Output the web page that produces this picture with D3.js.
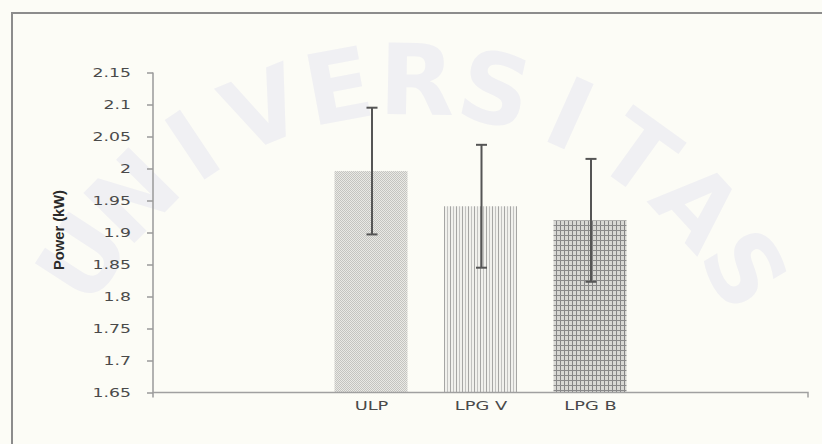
<!DOCTYPE html>
<html>
<head>
<meta charset="utf-8">
<script src="https://cdn.jsdelivr.net/npm/d3@7/dist/d3.min.js"></script>
<style>
  html, body { margin: 0; padding: 0; background: #fcfcf6; }
  svg { display: block; }
</style>
</head>
<body>
<script>
// Engine power by fuel type (mean ± standard deviation)
const categories = ["ULP", "LPG V", "LPG B"];
const powerMean = [1.996, 1.941, 1.919];
const powerErr = [0.099, 0.096, 0.096];
const yTicks = [1.65, 1.7, 1.75, 1.8, 1.85, 1.9, 1.95, 2, 2.05, 2.1, 2.15];
const yTickLabels = ["1.65", "1.7", "1.75", "1.8", "1.85", "1.9", "1.95", "2", "2.05", "2.1", "2.15"];
const yTitle = "Power (kW)";
const watermark = "UNIVERSITAS";

const W = 822, H = 444;
const svg = d3.select("body").append("svg").attr("width", W).attr("height", H);

svg.append("rect").attr("width", W).attr("height", H).attr("fill", "#fcfcf6");

// faint watermark lettering along an arc
const wm = svg.append("g").attr("fill", "#f0f0f3");
const cx = 410, cy = 470, rad = 390;
const a0 = -147, a1 = -31;
watermark.split("").forEach((ch, i) => {
  const ang = a0 + (a1 - a0) * i / (watermark.length - 1);
  const r = ang * Math.PI / 180;
  const x = cx + rad * Math.cos(r), y = cy + rad * Math.sin(r);
  wm.append("text")
    .attr("transform", `translate(${x},${y}) rotate(${ang + 90})`)
    .attr("text-anchor", "middle").attr("dy", "0.35em")
    .attr("font-family", "DejaVu Sans").attr("font-weight", "bold")
    .attr("font-size", 98).text(ch);
});

// patterns for the bar fills
const defs = svg.append("defs");
const pDots = defs.append("pattern").attr("id", "pDots").attr("patternUnits", "userSpaceOnUse")
  .attr("width", 2).attr("height", 2);
pDots.append("rect").attr("width", 2).attr("height", 2).attr("fill", "#e9e9e5");
pDots.append("rect").attr("x", 0).attr("y", 0).attr("width", 1).attr("height", 1).attr("fill", "#c4c4c0");
pDots.append("rect").attr("x", 1).attr("y", 1).attr("width", 1).attr("height", 1).attr("fill", "#c4c4c0");

const pVert = defs.append("pattern").attr("id", "pVert").attr("patternUnits", "userSpaceOnUse")
  .attr("width", 6).attr("height", 4);
pVert.append("rect").attr("width", 6).attr("height", 4).attr("fill", "#f1f1ed");
pVert.append("rect").attr("x", 0).attr("width", 1).attr("height", 4).attr("fill", "#a6a6a4");
pVert.append("rect").attr("x", 3).attr("width", 1).attr("height", 4).attr("fill", "#c2c2c0");

const pGrid = defs.append("pattern").attr("id", "pGrid").attr("patternUnits", "userSpaceOnUse")
  .attr("width", 4).attr("height", 5);
pGrid.append("rect").attr("width", 4).attr("height", 5).attr("fill", "#d8d8d4");
pGrid.append("rect").attr("x", 0).attr("width", 1).attr("height", 5).attr("fill", "#858585");
pGrid.append("rect").attr("y", 0).attr("width", 4).attr("height", 1).attr("fill", "#8a8a8a");

const fills = ["url(#pDots)", "url(#pVert)", "url(#pGrid)"];

// outer frame
svg.append("path").attr("d", `M12,${H} L12,13 L${W},13`)
  .attr("fill", "none").attr("stroke", "#8c8c8c").attr("stroke-width", 2);

// scales
const x0 = 153, x1 = 808;
const y = d3.scaleLinear().domain([1.65, 2.15]).range([392.5, 72.5]);
const x = d3.scalePoint().domain(categories).range([371, 590]);
const barW = 73;

// bars
svg.append("g").selectAll("rect").data(categories).join("rect")
  .attr("x", (d) => x(d) - barW / 2)
  .attr("y", (d, i) => y(powerMean[i]))
  .attr("width", barW)
  .attr("height", (d, i) => y(1.65) - y(powerMean[i]))
  .attr("fill", (d, i) => fills[i]);

// y axis
const yAxis = svg.append("g").attr("transform", `translate(${x0},0)`)
  .call(d3.axisLeft(y).tickValues(yTicks).tickSize(6).tickSizeOuter(0)
    .tickFormat((d, i) => yTickLabels[i]));
yAxis.select(".domain").remove();
yAxis.selectAll(".tick line").attr("stroke", "#9a9a9a").attr("stroke-width", 1.5);
yAxis.selectAll(".tick text")
  .attr("x", -14.7).attr("dy", "0.36em")
  .attr("transform", "scale(1.5,1)")
  .attr("fill", "#4a4a4a").attr("font-family", "DejaVu Sans").attr("font-size", 11.5);
svg.append("line").attr("x1", x0).attr("x2", x0).attr("y1", y(2.15)).attr("y2", 397.5)
  .attr("stroke", "#9a9a9a").attr("stroke-width", 1.5);

// x axis
const xAxis = svg.append("g").attr("transform", `translate(0,${y(1.65)})`)
  .call(d3.axisBottom(x).tickSize(0));
xAxis.select(".domain").remove();
xAxis.selectAll(".tick text")
  .attr("y", 13.5).attr("dy", "0.36em")
  .attr("transform", "scale(1.55,1)")
  .attr("fill", "#4a4a4a").attr("font-family", "DejaVu Sans").attr("font-size", 11.5);
svg.append("path").attr("d", `M${x0},${y(1.65)} L${x1},${y(1.65)} L${x1},397.5`)
  .attr("fill", "none").attr("stroke", "#a0a0a0").attr("stroke-width", 1.5);

// error bars
const eb = svg.append("g").attr("stroke", "#555").attr("fill", "none");
categories.forEach((c, i) => {
  const cxp = x(c) + 1;
  const top = y(powerMean[i] + powerErr[i]);
  const bot = y(powerMean[i] - powerErr[i]);
  eb.append("line").attr("x1", cxp).attr("x2", cxp).attr("y1", top).attr("y2", bot).attr("stroke-width", 2);
  eb.append("line").attr("x1", cxp - 5.5).attr("x2", cxp + 5.5).attr("y1", top).attr("y2", top).attr("stroke-width", 2);
  eb.append("line").attr("x1", cxp - 5.5).attr("x2", cxp + 5.5).attr("y1", bot).attr("y2", bot).attr("stroke-width", 2);
});

// y axis title
svg.append("text")
  .attr("transform", "translate(59,230) rotate(-90) scale(1,1.45)")
  .attr("text-anchor", "middle").attr("dy", "0.35em")
  .attr("font-family", "Liberation Sans").attr("font-weight", "bold").attr("font-size", 10)
  .attr("textLength", 80).attr("lengthAdjust", "spacingAndGlyphs")
  .attr("fill", "#2a2a2a").text(yTitle);
</script>
</body>
</html>
